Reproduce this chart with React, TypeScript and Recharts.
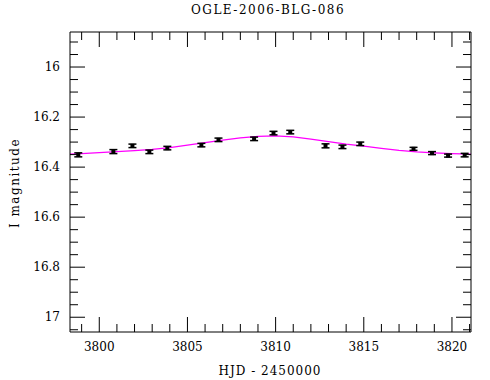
import { ComposedChart, Line, Scatter, ErrorBar, XAxis, YAxis } from "recharts";

const OBS_DAY = [3798.81, 3800.8, 3801.88, 3802.84, 3803.86, 3805.79, 3806.76, 3808.78, 3809.88, 3810.83, 3812.83, 3813.79, 3814.8, 3817.82, 3818.87, 3819.78, 3820.72];
const OBS_MAG = [16.351, 16.338, 16.315, 16.339, 16.324, 16.312, 16.291, 16.287, 16.264, 16.26, 16.315, 16.319, 16.307, 16.327, 16.344, 16.354, 16.352];
const OBS_ERR = [0.008, 0.008, 0.007, 0.007, 0.007, 0.007, 0.007, 0.007, 0.007, 0.007, 0.008, 0.007, 0.007, 0.006, 0.006, 0.006, 0.007];

const MODEL_DAY = [3798.3, 3799, 3800, 3801, 3802, 3803, 3804, 3805, 3806, 3807, 3808, 3809, 3810, 3811, 3812, 3813, 3814, 3815, 3816, 3817, 3818, 3819, 3820, 3821.1];
const MODEL_MAG = [16.348, 16.346, 16.342, 16.338, 16.334, 16.329, 16.322, 16.312, 16.302, 16.292, 16.283, 16.277, 16.275, 16.279, 16.288, 16.298, 16.308, 16.316, 16.325, 16.333, 16.339, 16.343, 16.346, 16.348];

const X_MAJOR = [3800, 3805, 3810, 3815, 3820];
const X_MINOR = [3799, 3801, 3802, 3803, 3804, 3806, 3807, 3808, 3809, 3811, 3812, 3813, 3814, 3816, 3817, 3818, 3819, 3821];
const Y_MAJOR = [16, 16.2, 16.4, 16.6, 16.8, 17];
const Y_MINOR = [15.9, 15.95, 16.05, 16.1, 16.15, 16.25, 16.3, 16.35, 16.45, 16.5, 16.55, 16.65, 16.7, 16.75, 16.85, 16.9, 16.95, 17.05];

const obs = OBS_DAY.map((d, i) => ({ day: d, mag: OBS_MAG[i], err: OBS_ERR[i] }));
const model = MODEL_DAY.map((d, i) => ({ day: d, mag: MODEL_MAG[i] }));

const xTicks = [...X_MAJOR, ...X_MINOR].sort((a, b) => a - b);
const yTicks = [...Y_MAJOR, ...Y_MINOR].sort((a, b) => a - b);

const FONT = "'DejaVu Serif', serif";

const isMajor = (v: number, list: number[]) => list.some((m) => Math.abs(m - v) < 1e-6);

const XTick = ({ x, y, payload, side }: any) => {
  const major = isMajor(payload.value, X_MAJOR);
  const len = major ? 15 : 8;
  if (side === "top") {
    return <line x1={x} x2={x} y1={y} y2={y + len} stroke="#000" />;
  }
  return (
    <g>
      <line x1={x} x2={x} y1={y} y2={y - len} stroke="#000" />
      {major && (
        <text x={x} y={y + 19} textAnchor="middle" fontSize={12} fontFamily={FONT} fill="#000">
          {payload.value}
        </text>
      )}
    </g>
  );
};

const YTick = ({ x, y, payload, side }: any) => {
  const major = isMajor(payload.value, Y_MAJOR);
  const len = major ? 15 : 8;
  if (side === "right") {
    return <line x1={x} x2={x - len} y1={y} y2={y} stroke="#000" />;
  }
  return (
    <g>
      <line x1={x} x2={x + len} y1={y} y2={y} stroke="#000" />
      {major && (
        <text x={x - 10} y={y + 4} textAnchor="end" fontSize={12} fontFamily={FONT} fill="#000">
          {payload.value}
        </text>
      )}
    </g>
  );
};

const Marker = ({ cx, cy }: any) => <rect x={cx - 2} y={cy - 2} width={4} height={4} fill="#000" />;

export default function App() {
  return (
    <div style={{ position: "absolute", left: 0, top: 0, width: 490, height: 380, background: "#fff" }}>
      <ComposedChart width={490} height={380} margin={{ top: 0, right: 0, bottom: 0, left: 0 }}>
        <XAxis
          xAxisId="b"
          dataKey="day"
          type="number"
          domain={[3798.34, 3821.08]}
          ticks={xTicks}
          tick={<XTick side="bottom" />}
          tickLine={false}
          tickSize={0}
          tickMargin={0}
          height={48}
          allowDataOverflow
          stroke="#000"
          interval={0}
        />
        <XAxis
          xAxisId="t"
          orientation="top"
          dataKey="day"
          type="number"
          domain={[3798.34, 3821.08]}
          ticks={xTicks}
          tick={<XTick side="top" />}
          tickLine={false}
          tickSize={0}
          tickMargin={0}
          height={32}
          allowDataOverflow
          stroke="#000"
          interval={0}
        />
        <YAxis
          yAxisId="l"
          dataKey="mag"
          type="number"
          reversed
          domain={[15.86, 17.059]}
          ticks={yTicks}
          tick={<YTick side="left" />}
          tickLine={false}
          tickSize={0}
          tickMargin={0}
          width={70}
          allowDataOverflow
          stroke="#000"
          interval={0}
        />
        <YAxis
          yAxisId="r"
          orientation="right"
          dataKey="mag"
          type="number"
          reversed
          domain={[15.86, 17.059]}
          ticks={yTicks}
          tick={<YTick side="right" />}
          tickLine={false}
          tickSize={0}
          tickMargin={0}
          width={19}
          allowDataOverflow
          stroke="#000"
          interval={0}
        />
        <Line
          xAxisId="b"
          yAxisId="l"
          data={model}
          dataKey="mag"
          type="linear"
          stroke="#ff00ff"
          strokeWidth={1.2}
          dot={false}
          isAnimationActive={false}
        />
        <Scatter xAxisId="b" yAxisId="l" data={obs} dataKey="mag" shape={<Marker />} isAnimationActive={false}>
          <ErrorBar dataKey="err" direction="y" width={4} stroke="#000" strokeWidth={1.5} isAnimationActive={false} />
        </Scatter>
        <text x={268} y={14} textAnchor="middle" fontSize={12} fontFamily={FONT} letterSpacing={1.5} fill="#000">
          OGLE-2006-BLG-086
        </text>
        <text x={270} y={375} textAnchor="middle" fontSize={12} fontFamily={FONT} letterSpacing={1} fill="#000">
          HJD - 2450000
        </text>
        <text
          x={19}
          y={183}
          textAnchor="middle"
          fontSize={12}
          fontFamily={FONT}
          letterSpacing={1.5}
          fill="#000"
          transform="rotate(-90 19 183)"
        >
          I magnitude
        </text>
      </ComposedChart>
    </div>
  );
}
